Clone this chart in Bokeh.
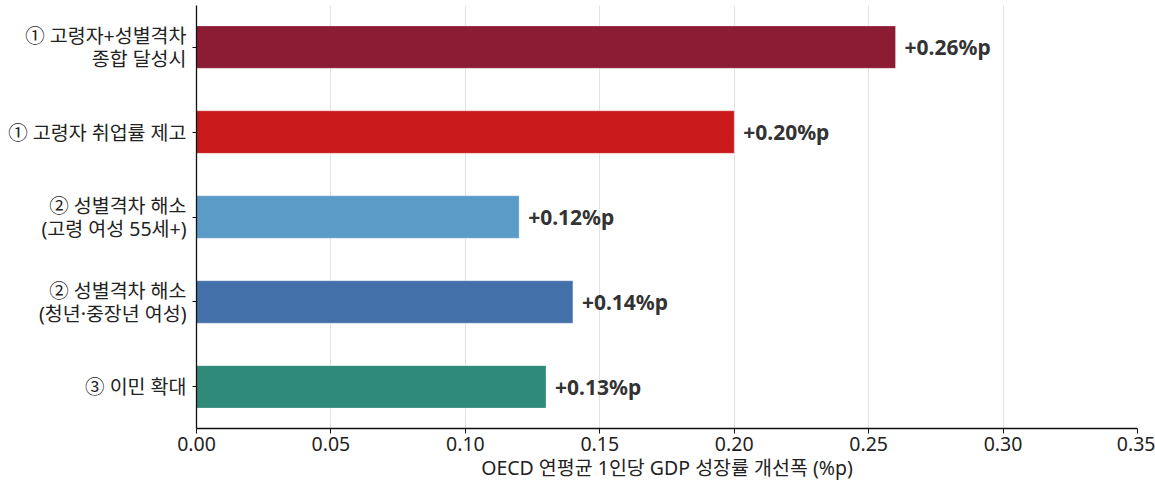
from bokeh.plotting import figure
from bokeh.models import FixedTicker, ColumnDataSource, Range1d
from bokeh.core.properties import value
from bokeh.embed import file_html
from bokeh.resources import INLINE

# Scenarios, bottom to top
categories = [
    "③ 이민 확대",
    "② 성별격차 해소\n(청년·중장년 여성)",
    "② 성별격차 해소\n(고령 여성 55세+)",
    "① 고령자 취업률 제고",
    "① 고령자+성별격차\n종합 달성시",
]
gains = [0.13, 0.14, 0.12, 0.20, 0.26]
colors = ["#2F8A7A", "#4470AA", "#5B9BC8", "#C8191B", "#8B1C34"]
value_labels = ["+0.13%p", "+0.14%p", "+0.12%p", "+0.20%p", "+0.26%p"]
x_ticks = [0.0, 0.05, 0.10, 0.15, 0.20, 0.25, 0.30, 0.35]
x_title = "OECD 연평균 1인당 GDP 성장률 개선폭 (%p)"

FONT = "Noto Sans, Noto Sans CJK KR"

ypos = list(range(len(categories)))
src = ColumnDataSource(dict(y=ypos, v=gains, c=colors, lab=value_labels))

p = figure(width=1155, height=483, output_backend="svg", toolbar_location=None,
           x_range=Range1d(0, 0.35), y_range=Range1d(-0.49, 4.49))
p.min_border_left = 196
p.min_border_right = 18
p.min_border_top = 5
p.min_border_bottom = 54
p.outline_line_color = None
p.background_fill_color = "white"
p.border_fill_color = "white"

p.hbar(y="y", right="v", left=0, height=0.5, fill_color="c", line_color="white",
       line_width=0.6, line_alpha=0.5, fill_alpha=1.0, source=src)

p.text(x="v", y="y", text="lab", source=src, x_offset=9, text_align="left",
       text_baseline="middle", text_font=value(FONT), text_font_style="bold",
       text_font_size="21px", text_color="#333333")

# x axis
p.xaxis.ticker = FixedTicker(ticks=x_ticks)
p.xaxis.major_label_overrides = {t: f"{t:.2f}" for t in x_ticks}
p.xaxis.axis_label = x_title
p.xaxis.axis_label_text_font = FONT
p.xaxis.axis_label_text_font_style = "normal"
p.xaxis.axis_label_text_font_size = "19.5px"
p.xaxis.axis_label_text_color = "#222222"
p.xaxis.axis_label_standoff = 0
p.xaxis.major_label_text_font = FONT
p.xaxis.major_label_text_font_size = "19.5px"
p.xaxis.major_label_text_color = "#222222"
p.xaxis.major_label_standoff = 3
p.xaxis.major_tick_out = 5
p.xaxis.major_tick_in = 0
p.xaxis.minor_tick_line_color = None
p.xaxis.axis_line_color = "#111111"
p.xaxis.axis_line_width = 1.3
p.xaxis.major_tick_line_color = "#111111"

# y axis with scenario names
p.yaxis.ticker = FixedTicker(ticks=ypos)
p.yaxis.major_label_overrides = {i: c for i, c in zip(ypos, categories)}
p.yaxis.major_label_text_font = FONT
p.yaxis.major_label_text_font_size = "19.5px"
p.yaxis.major_label_text_color = "#222222"
p.yaxis.major_label_text_align = "right"
p.yaxis.major_label_text_line_height = 0.85
p.yaxis.major_label_standoff = 6
p.yaxis.major_tick_out = 4
p.yaxis.major_tick_in = 0
p.yaxis.minor_tick_line_color = None
p.yaxis.axis_line_color = "#111111"
p.yaxis.axis_line_width = 1.3
p.yaxis.major_tick_line_color = "#111111"

p.ygrid.grid_line_color = None
p.xgrid.ticker = FixedTicker(ticks=x_ticks)
p.xgrid.grid_line_color = "#e3e3e3"
p.xgrid.grid_line_width = 1

open("out.html", "w").write(file_html(p, INLINE))
